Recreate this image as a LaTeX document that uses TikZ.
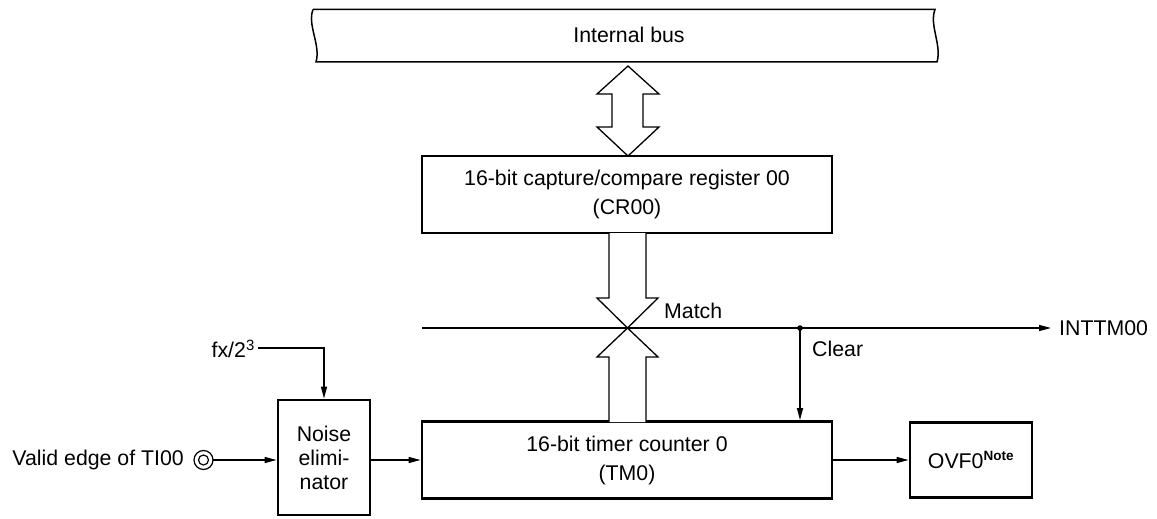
\documentclass[tikz,border=0pt]{standalone}
\usepackage{fontspec}
\setmainfont{Liberation Sans}
\usetikzlibrary{arrows.meta}
\begin{document}
\begin{tikzpicture}[x=1pt,y=-1pt,
  font=\fontsize{21.3}{24}\selectfont,
  box/.style={draw,line width=2.8pt,inner sep=0pt,align=center},
  thin/.style={line width=1.3pt},
  arr/.style={thin,-{Triangle[length=12pt,width=6pt]}},
  fat/.style={draw,line width=1.3pt,line join=miter,fill=white}]
\useasboundingbox (0,0) rectangle (1157,519);
% internal bus
\draw[line width=1.5pt] (313,9.5) -- (935,9.5)
  .. controls (929,25) and (942,45) .. (937,62) -- (316,62)
  .. controls (321,45) and (307,25) .. (313,9.5);
\node (bus) at (629,35) {Internal bus};
% boxes
\node[box,minimum width=410pt,minimum height=77pt] (cr) at (627,194.5)
  {16-bit capture/compare register 00\\[5pt](CR00)};
\node[box,minimum width=410pt,minimum height=77pt] (tm) at (627,460)
  {16-bit timer counter 0\\[5pt](TM0)};
\node[box,minimum width=92pt,minimum height=115pt] (noise) at (324,457.5)
  {Noise\\[0pt]elimi-\\[0pt]nator};
\node[box,minimum width=122pt,minimum height=75pt] (ovf) at (971,460)
  {OVF0\textsuperscript{\fontsize{13.5}{13.5}\selectfont\bfseries Note}};
% bus double arrow
\draw[fat] (628,66) -- (659,94) -- (643,94) -- (643,127) -- (659,127) -- (628,156)
  -- (597,127) -- (612,127) -- (612,94) -- (597,94) -- cycle;
% wide arrows to the match line
\draw[fat] (609,233) -- (609,298) -- (597,298) -- (627.5,328) -- (658,298) -- (646,298) -- (646,233);
\draw[fat] (609,422) -- (609,357) -- (597,357) -- (627.5,328) -- (658,357) -- (646,357) -- (646,422);
% match line
\coordinate (ms) at (422,328);
\coordinate (dot) at (800,328);
\node[anchor=west,inner sep=0pt] (int) at (1059,328) {INTTM00};
\draw[arr] (ms) -- ([xshift=-8pt]int.west);
\fill (dot) circle (2.8pt);
\draw[arr] (dot) -- (dot |- tm.north);
\node[anchor=west,inner sep=0pt] (match) at (664,311) {Match};
\node[anchor=west,inner sep=0pt] (clear) at (812,349) {Clear};
% fx input
\node[anchor=east,inner sep=0pt] (fx) at (255,349) {fx/2\textsuperscript{3}};
\draw[arr] ([xshift=3pt,yshift=1pt]fx.east) -| (noise.north);
% valid edge input
\node[anchor=east,inner sep=0pt] (ve) at (184,460) {Valid edge of TI00};
\draw[line width=1.2pt] (203.5,460) coordinate (pin) circle (9.5pt) circle (5pt);
\draw[arr] ([xshift=9.5pt]pin) -- (noise.west |- pin);
\draw[arr] (noise.east |- tm.west) -- (tm.west);
\draw[arr] (tm.east) -- (ovf.west);
\end{tikzpicture}
\end{document}
